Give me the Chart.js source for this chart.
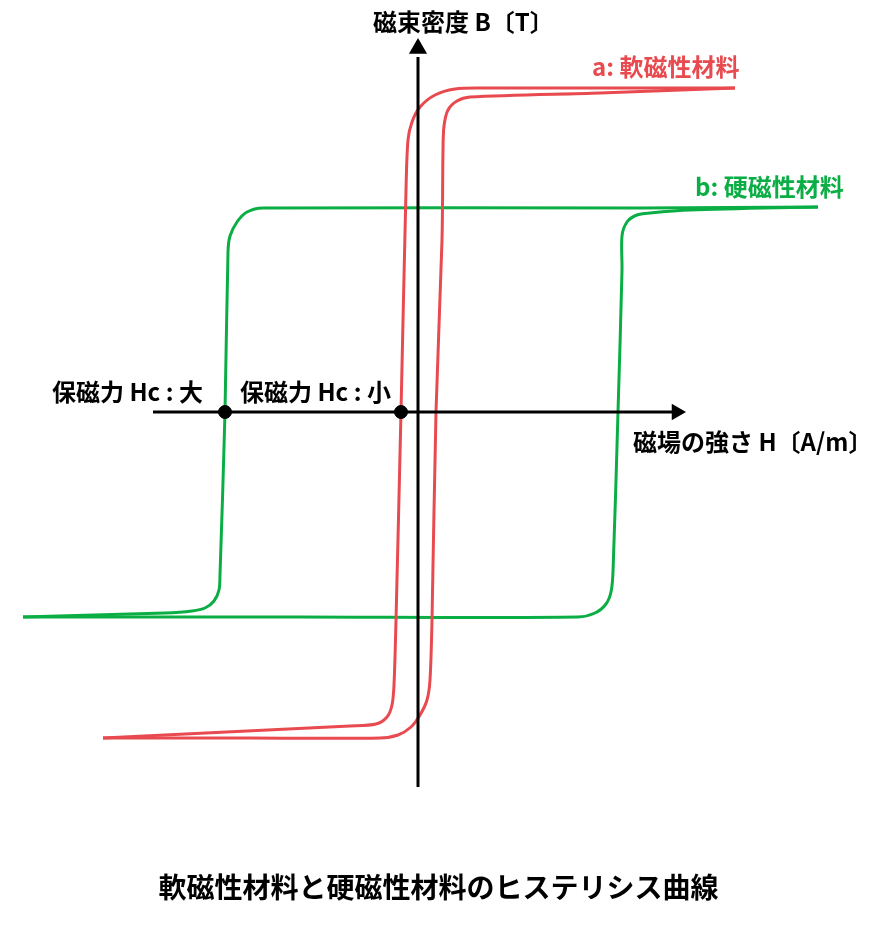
<!DOCTYPE html>
<html lang="ja">
<head>
<meta charset="utf-8">
<title>ヒステリシス曲線</title>
<script src="https://cdn.jsdelivr.net/npm/chart.js@4/dist/chart.umd.min.js"></script>
<style>
  body { margin: 0; background: #fff; }
  canvas { display: block; }
</style>
</head>
<body>
<canvas id="miGrafica" width="877" height="931"></canvas>
<script>
// H (x) と B (y) の値 -- 画像から読み取り
// a: 軟磁性材料 (赤)
const blandoBajada = [
  [31.7, 32.4], [18.2, 32.4], [6.2, 32.4], [3.7, 32.3], [1.7, 31.7], [0.2, 30.5],
  [-0.6, 29.0], [-1.0, 27.2], [-1.2, 22.2], [-1.7, 0], [-2.2, -20.8], [-2.4, -27.3],
  [-2.6, -29.3], [-3.1, -30.5], [-4.2, -31.2], [-6.8, -31.4], [-31.5, -32.6]
];
const blandoSubida = [
  [-31.5, -32.6], [-16.8, -32.6], [-3.8, -32.6], [-2.0, -32.3], [-0.7, -31.5], [0.2, -30.3],
  [0.9, -28.8], [1.2, -26.8], [1.4, -20.8], [1.8, 0], [2.4, 17.2], [2.5, 26.2],
  [2.6, 28.6], [3.0, 30.2], [3.9, 31.1], [5.2, 31.5], [18.2, 31.9], [31.7, 32.4]
];
// b: 硬磁性材料 (verde)
const duroBajada = [
  [40.0, 20.5], [22.2, 20.4], [-15.5, 20.4], [-17.1, 20.0], [-18.1, 19.0], [-18.8, 17.6],
  [-19.0, 16.0], [-19.3, 0], [-19.8, -16.3], [-19.9, -17.8], [-20.4, -18.9], [-21.3, -19.6],
  [-22.6, -19.9], [-25.3, -20.1], [-39.5, -20.5]
];
const duroSubida = [
  [-39.5, -20.5], [-11.8, -20.5], [16.0, -20.5], [17.7, -20.1], [18.8, -19.2], [19.3, -18.0],
  [19.5, -16.0], [20.0, 0], [20.4, 14.2], [20.4, 17.6], [20.9, 19.0], [21.9, 19.7],
  [23.2, 19.9], [27.2, 20.2], [40.0, 20.5]
];
// 保磁力 Hc (puntos sobre el eje H)
const coercitivos = [[-19.3, 0], [-1.7, 0]];
// ejes
const ejeH = [[-26.5, 0], [26.0, 0]];
const ejeB = [[0, -37.5], [0, 35.5]];
const puntaH = [[25.85, 0]];
const puntaB = [[0, 36.35]];

const rojo = "#e84a4f";
const verde = "#0aae45";
const fuente = '"Noto Sans CJK JP", "Noto Sans", sans-serif';

// textos
const textos = [
  { t: "磁束密度 B〔T〕", h: -4.5, b: 39.0, c: "#000" },
  { t: "a: 軟磁性材料", h: 17.4, b: 34.5, c: rojo },
  { t: "b: 硬磁性材料", h: 27.7, b: 22.5, c: verde },
  { t: "保磁力 Hc : 大", h: -36.6, b: 2.0, c: "#000" },
  { t: "保磁力 Hc : 小", h: -17.8, b: 2.0, c: "#000" },
  { t: "磁場の強さ H〔A/m〕", h: 21.5, b: -3.0, c: "#000" }
];

const aPuntos = arr => arr.map(p => ({ x: p[0], y: p[1] }));

function curva(arr, color) {
  return {
    data: aPuntos(arr), showLine: true, borderColor: color, borderWidth: 3,
    pointRadius: 0, tension: 0.3, fill: false
  };
}

const pluginTextos = {
  id: "textos",
  afterDatasetsDraw(chart) {
    const ctx = chart.ctx;
    const sx = chart.scales.x, sy = chart.scales.y;
    ctx.save();
    ctx.font = "bold 24px " + fuente;
    ctx.textAlign = "left";
    ctx.textBaseline = "middle";
    textos.forEach(el => {
      ctx.fillStyle = el.c;
      ctx.fillText(el.t, sx.getPixelForValue(el.h), sy.getPixelForValue(el.b));
    });
    ctx.restore();
  }
};

let micanvas = document.getElementById("miGrafica").getContext("2d");
let chart = new Chart(micanvas, {
  type: "scatter",
  data: {
    datasets: [
      {
        data: aPuntos(coercitivos), pointRadius: 6.5, pointBorderWidth: 1,
        backgroundColor: "#000", borderColor: "#000"
      },
      {
        data: aPuntos(puntaH), pointStyle: "triangle", rotation: 90, pointRadius: 9.5,
        backgroundColor: "#000", borderColor: "#000", pointBorderWidth: 0
      },
      {
        data: aPuntos(puntaB), pointStyle: "triangle", pointRadius: 10.5,
        backgroundColor: "#000", borderColor: "#000", pointBorderWidth: 0
      },
      { data: aPuntos(ejeH), showLine: true, borderColor: "#000", borderWidth: 3, pointRadius: 0 },
      { data: aPuntos(ejeB), showLine: true, borderColor: "#000", borderWidth: 3, pointRadius: 0 },
      curva(blandoBajada, rojo),
      curva(blandoSubida, rojo),
      curva(duroBajada, verde),
      curva(duroSubida, verde)
    ]
  },
  options: {
    responsive: false,
    animation: false,
    layout: { padding: 0, autoPadding: false },
    scales: {
      x: { type: "linear", display: false, min: -41.8, max: 45.9 },
      y: { type: "linear", display: false, min: -45.84, max: 41.2 }
    },
    plugins: {
      legend: { display: false },
      tooltip: { enabled: false },
      title: {
        display: true,
        position: "bottom",
        text: "軟磁性材料と硬磁性材料のヒステリシス曲線",
        color: "#000",
        font: { family: fuente, size: 28, weight: "bold", lineHeight: 1.2 },
        padding: { top: 0, bottom: 27 }
      }
    }
  },
  plugins: [pluginTextos]
});
</script>
</body>
</html>
